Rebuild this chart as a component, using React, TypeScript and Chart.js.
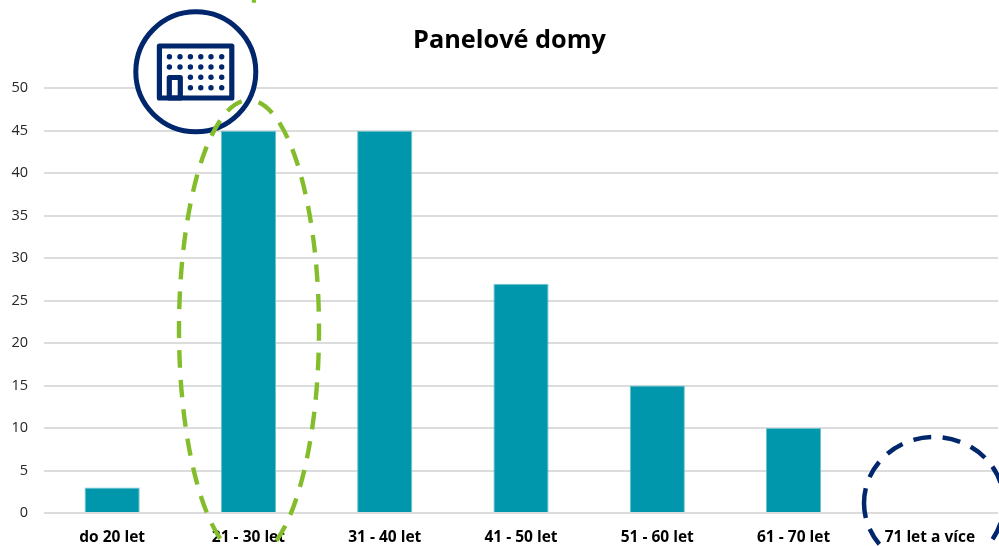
import React, { useEffect, useRef } from "react";
import { Chart, registerables } from "chart.js";

Chart.register(...registerables);

const categories = ["do 20 let", "21 - 30 let", "31 - 40 let", "41 - 50 let", "51 - 60 let", "61 - 70 let", "71 let a více"];
const values = [3, 45, 45, 27, 15, 10, 0];
const titleText = "Panelové domy";
const FONT = '"Open Sans", sans-serif';
const NAVY = "#00266B";
const GREEN = "#84BD2B";

const overlays = {
  id: "overlays",
  afterLayout(chart: any) {
    // the title sits centred 10px right of the canvas centre
    chart.titleBlock.left = 21;
  },
  afterDatasetsDraw(chart: any) {
    const c = chart.ctx as CanvasRenderingContext2D;
    c.save();
    // navy icon badge
    c.beginPath();
    c.arc(195.8, 71.8, 60, 0, Math.PI * 2);
    c.fillStyle = "#fff";
    c.fill();
    c.lineWidth = 5;
    c.strokeStyle = NAVY;
    c.stroke();
    c.lineJoin = "round";
    c.lineWidth = 5.2;
    c.strokeRect(159.4, 46, 72.4, 52);
    c.strokeRect(169.3, 77.5, 11, 20.5);
    c.fillStyle = NAVY;
    const xs = [169.4, 180, 190.4, 200.8, 211, 221.7];
    const ys = [56.7, 67, 77.3, 87.7];
    ys.forEach((y, row) =>
      xs.forEach((x, col) => {
        if (row >= 2 && col < 2) return;
        c.beginPath();
        c.arc(x, y, 2.7, 0, Math.PI * 2);
        c.fill();
      })
    );
    // green dashed ellipse, starting at its top
    c.lineWidth = 4.4;
    c.strokeStyle = GREEN;
    c.setLineDash([17.5, 12]);
    c.lineDashOffset = 19.5;
    c.beginPath();
    c.ellipse(249, 329.5, 70, 229.5, 0, -Math.PI / 2, Math.PI * 1.5);
    c.stroke();
    // green remnant at the top edge
    c.setLineDash([]);
    c.beginPath();
    c.moveTo(252, 0);
    c.lineTo(256, 1);
    c.stroke();
    // navy dashed ellipse, starting at its left
    c.lineWidth = 4.5;
    c.strokeStyle = NAVY;
    c.setLineDash([18, 11.6]);
    c.lineDashOffset = 3;
    c.beginPath();
    c.ellipse(934, 503, 70, 66, 0, Math.PI, Math.PI * 3);
    c.stroke();
    c.restore();
  },
};

export default function App() {
  const ref = useRef<HTMLCanvasElement>(null);
  useEffect(() => {
    document.body.style.margin = "0";
    const chart = new Chart(ref.current!, {
      type: "bar",
      data: {
        labels: categories,
        datasets: [
          {
            data: values,
            backgroundColor: "#0097AC",
            borderColor: "#6FC3CE",
            borderWidth: 1,
            categoryPercentage: 1,
            barPercentage: 0.405,
          },
        ],
      },
      options: {
        responsive: false,
        animation: false,
        layout: { padding: { left: 0, right: 1, top: 0, bottom: 0 } },
        plugins: {
          legend: { display: false },
          tooltip: { enabled: false },
          title: {
            display: true,
            text: titleText,
            color: "#000",
            font: { family: FONT, size: 25.3, weight: "bold" },
            padding: { top: 26, bottom: 32 },
          },
        },
        scales: {
          x: {
            afterFit(s: any) {
              s.height = 33;
            },
            grid: { display: false },
            border: { display: false },
            ticks: { color: "#000", font: { family: FONT, size: 15.5, weight: "bold" }, maxRotation: 0, padding: 7 },
          },
          y: {
            min: 0,
            max: 50,
            afterFit(s: any) {
              s.width = 44;
            },
            grid: { color: "#DCDCDC", lineWidth: 2, drawTicks: false },
            border: { display: false },
            ticks: { stepSize: 5, color: "#262626", font: { family: FONT, size: 14.5 }, padding: 16 },
          },
        },
      },
      plugins: [overlays],
    } as any);
    return () => chart.destroy();
  }, []);
  return <canvas ref={ref} width={999} height={546} style={{ display: "block" }} />;
}
